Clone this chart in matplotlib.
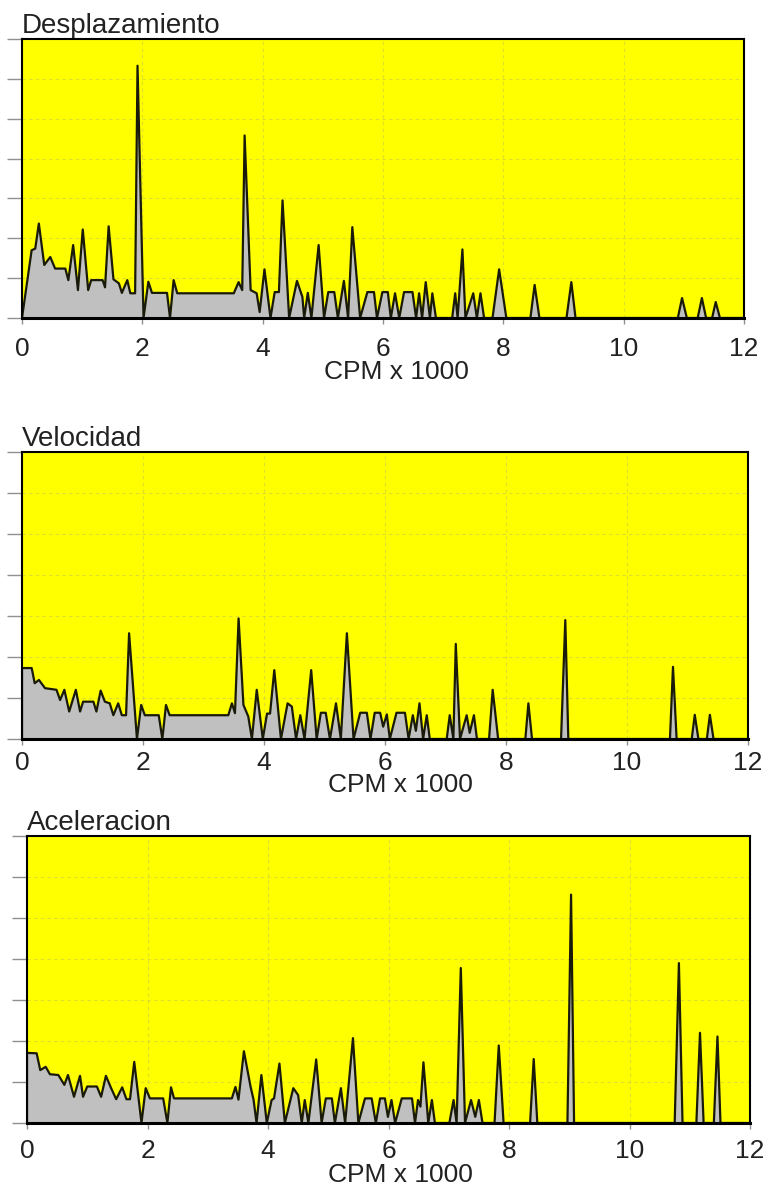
#!/usr/bin/env python3
# -*- coding: utf-8 -*-

import matplotlib
matplotlib.use('Agg')
import matplotlib.pyplot as plt

plt.rcParams['font.family'] = ['Liberation Sans', 'DejaVu Sans']

# 频谱数据 (CPM x 1000, 幅值以网格格数计)
desp_x = [0, 0.16, 0.22, 0.28, 0.37, 0.47, 0.55, 0.72, 0.77, 0.85, 0.93, 1.01, 1.10, 1.15, 1.34, 1.38,
          1.44, 1.52, 1.61, 1.66, 1.75, 1.80, 1.88, 1.92, 2.02, 2.10, 2.16, 2.41, 2.46, 2.52, 2.58, 3.52,
          3.60, 3.66, 3.70, 3.80, 3.90, 3.95, 4.03, 4.13, 4.20, 4.27, 4.33, 4.44, 4.57, 4.66, 4.69, 4.75,
          4.81, 4.93, 5.02, 5.09, 5.19, 5.25, 5.35, 5.42, 5.49, 5.62, 5.74, 5.85, 5.90, 5.99, 6.08, 6.13,
          6.20, 6.27, 6.35, 6.49, 6.55, 6.60, 6.65, 6.71, 6.78, 6.82, 6.88, 7.15, 7.20, 7.24, 7.32, 7.37,
          7.50, 7.56, 7.62, 7.68, 7.82, 7.93, 8.05, 8.45, 8.52, 8.60, 9.05, 9.13, 9.20, 10.90, 10.97, 11.05,
          11.23, 11.30, 11.37, 11.47, 11.53, 11.60, 12.0]
desp_y = [0, 1.70, 1.74, 2.37, 1.33, 1.53, 1.24, 1.24, 0.95, 1.83, 0.70, 2.22, 0.70, 0.95, 0.95, 0.77,
          2.30, 0.97, 0.87, 0.63, 0.95, 0.62, 0.62, 6.33, 0, 0.91, 0.63, 0.63, 0, 0.95, 0.62, 0.62,
          0.90, 0.70, 4.58, 0.70, 0.62, 0.15, 1.22, 0, 0.65, 0.65, 2.95, 0, 0.93, 0.53, 0, 0.63,
          0, 1.83, 0, 0.65, 0.65, 0, 0.93, 0, 2.28, 0, 0.65, 0.65, 0, 0.65, 0.65, 0,
          0.62, 0, 0.65, 0.65, 0, 0.62, 0, 0.90, 0, 0.62, 0, 0, 0.62, 0, 1.72, 0,
          0.62, 0, 0.62, 0, 0, 1.22, 0, 0, 0.83, 0, 0, 0.90, 0, 0, 0.50, 0,
          0, 0.50, 0, 0, 0.40, 0, 0]

velo_x = [0, 0, 0.16, 0.21, 0.28, 0.38, 0.57, 0.63, 0.70, 0.78, 0.89, 0.96, 1.01, 1.18, 1.23, 1.30,
          1.37, 1.45, 1.51, 1.59, 1.65, 1.72, 1.77, 1.90, 1.97, 2.03, 2.26, 2.32, 2.38, 2.44, 3.41, 3.47,
          3.52, 3.58, 3.66, 3.74, 3.80, 3.88, 3.98, 4.05, 4.10, 4.17, 4.28, 4.39, 4.46, 4.53, 4.60, 4.67,
          4.78, 4.87, 4.94, 5.02, 5.09, 5.19, 5.27, 5.37, 5.48, 5.59, 5.70, 5.76, 5.83, 5.92, 5.97, 6.03,
          6.08, 6.19, 6.33, 6.39, 6.46, 6.51, 6.57, 6.63, 6.69, 6.74, 7.02, 7.07, 7.13, 7.17, 7.24, 7.35,
          7.40, 7.47, 7.52, 7.72, 7.78, 7.87, 8.32, 8.37, 8.43, 8.91, 8.98, 9.03, 10.71, 10.76, 10.82, 11.07,
          11.12, 11.18, 11.32, 11.37, 11.43, 12.0]
velo_y = [0, 1.73, 1.73, 1.36, 1.44, 1.24, 1.20, 0.95, 1.20, 0.67, 1.20, 0.67, 0.91, 0.91, 0.67, 1.18,
          0.91, 0.87, 0.58, 0.87, 0.58, 0.58, 2.58, 0, 0.83, 0.58, 0.58, 0, 0.83, 0.58, 0.58, 0.87,
          0.63, 2.94, 0.83, 0.55, 0, 1.20, 0, 0.62, 0.62, 1.68, 0, 0.87, 0.79, 0, 0.58, 0,
          1.68, 0, 0.64, 0.64, 0, 0.87, 0, 2.58, 0, 0.64, 0.64, 0, 0.64, 0.64, 0.30, 0.60,
          0, 0.64, 0.64, 0, 0.58, 0.20, 0.87, 0, 0.58, 0, 0, 0.58, 0, 2.32, 0, 0.58,
          0.15, 0.58, 0, 0, 1.20, 0, 0, 0.87, 0, 0, 2.90, 0, 0, 1.76, 0, 0,
          0.59, 0, 0, 0.59, 0, 0]

acel_x = [0, 0, 0.16, 0.22, 0.31, 0.38, 0.52, 0.62, 0.68, 0.78, 0.88, 0.93, 1.00, 1.16, 1.23, 1.31,
          1.39, 1.48, 1.58, 1.65, 1.71, 1.78, 1.90, 1.97, 2.04, 2.26, 2.33, 2.39, 2.44, 3.40, 3.46, 3.51,
          3.60, 3.71, 3.76, 3.81, 3.89, 3.98, 4.06, 4.10, 4.19, 4.28, 4.42, 4.50, 4.56, 4.61, 4.67, 4.80,
          4.89, 4.96, 5.06, 5.11, 5.21, 5.28, 5.41, 5.50, 5.61, 5.72, 5.79, 5.86, 5.94, 5.99, 6.05, 6.11,
          6.22, 6.39, 6.44, 6.49, 6.53, 6.58, 6.66, 6.72, 6.77, 7.01, 7.08, 7.13, 7.20, 7.27, 7.37, 7.44,
          7.50, 7.56, 7.76, 7.83, 7.91, 8.35, 8.41, 8.47, 8.97, 9.03, 9.08, 10.75, 10.82, 10.88, 11.11, 11.17,
          11.23, 11.40, 11.46, 11.51, 12.0]
acel_y = [0, 1.71, 1.70, 1.29, 1.37, 1.19, 1.17, 0.93, 1.17, 0.64, 1.15, 0.64, 0.89, 0.89, 0.64, 1.15,
          0.87, 0.58, 0.87, 0.58, 0.58, 1.49, 0, 0.85, 0.60, 0.60, 0, 0.87, 0.60, 0.60, 0.88, 0.57,
          1.75, 0.89, 0.57, 0, 1.17, 0, 0.56, 0.60, 1.45, 0, 0.85, 0.68, 0, 0.56, 0, 1.55,
          0, 0.60, 0.60, 0, 0.85, 0, 2.07, 0, 0.60, 0.60, 0, 0.60, 0.60, 0.15, 0.56, 0,
          0.60, 0.60, 0, 0.56, 0.40, 1.48, 0, 0.56, 0, 0, 0.56, 0, 3.78, 0, 0.56, 0.15,
          0.56, 0, 0, 1.89, 0, 0, 1.56, 0, 0, 5.57, 0, 0, 3.90, 0, 0, 2.20,
          0, 0, 2.11, 0, 0]

titles = ['Desplazamiento', 'Velocidad', 'Aceleracion']
x_ticks = [0, 2, 4, 6, 8, 10, 12]
y_ticks = [0, 1, 2, 3, 4, 5, 6, 7]
xlabel = 'CPM x 1000'

# 每个子图的位置 [left, bottom, width, height]
W, H = 773, 1192
boxes = [
    [22 / W, 1 - 318 / H, 722 / W, 279 / H],
    [22 / W, 1 - 739 / H, 726 / W, 287 / H],
    [27 / W, 1 - 1123 / H, 723 / W, 287 / H],
]
tick_pads = [10, 4.5, 7.5]
label_pos = [(0.518, -0.152), (0.521, -0.118), (0.516, -0.138)]

fig = plt.figure(figsize=(W / 100, H / 100), dpi=100)

series = [(desp_x, desp_y), (velo_x, velo_y), (acel_x, acel_y)]
for i, (xs, ys) in enumerate(series):
    ax = fig.add_axes(boxes[i])
    ax.set_facecolor('#FFFF00')
    ax.fill_between(xs, ys, 0, color='#C0C0C0', linewidth=0, zorder=2)
    ax.plot(xs, ys, color='#1A1A0A', linewidth=1.6, zorder=3)
    ax.set_xlim(0, 12)
    ax.set_ylim(0, 7)
    ax.set_xticks(x_ticks)
    ax.set_xticklabels([str(t) for t in x_ticks])
    ax.set_yticks(y_ticks)
    ax.set_yticklabels([])
    ax.grid(True, color='#C8C850', linestyle=(0, (3, 3)), linewidth=0.8, alpha=0.6, zorder=1)
    ax.set_axisbelow(True)
    ax.tick_params(axis='x', direction='out', length=4, width=1, color='#909090',
                   labelsize=19, pad=tick_pads[i], labelcolor='#222222')
    ax.tick_params(axis='y', direction='out', length=11, width=1, color='#909090')
    for s in ax.spines.values():
        s.set_color('black')
        s.set_linewidth(1.5)
        s.set_zorder(4)
    ax.spines['bottom'].set_linewidth(2.2)
    ax.set_title(titles[i], loc='left', fontsize=20, pad=4, color='#222222')
    ax.set_xlabel(xlabel, fontsize=19, color='#222222', va='top')
    ax.xaxis.set_label_coords(*label_pos[i])

plt.savefig('out.png', dpi=100)
